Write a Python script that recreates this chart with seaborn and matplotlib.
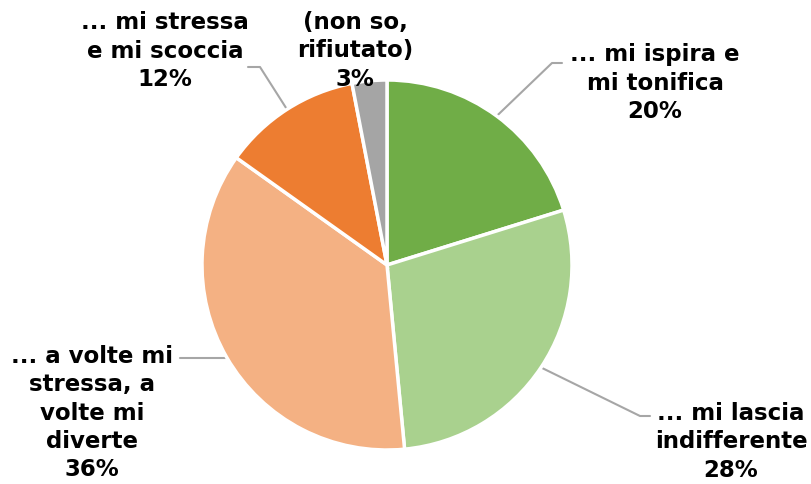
import numpy as np
import matplotlib
matplotlib.use("Agg")
import matplotlib.pyplot as plt
import seaborn as sns

sns.set_theme(style="white")
plt.rcParams["font.family"] = ["DejaVu Sans"]

categories = [
    "... mi ispira e\nmi tonifica",
    "... mi lascia\nindifferente",
    "... a volte mi\nstressa, a\nvolte mi\ndiverte",
    "... mi stressa\ne mi scoccia",
    "(non so,\nrifiutato)",
]
shares = [20, 28, 36, 12, 3]
colors = ["#70AD47", "#A9D18E", "#F4B183", "#ED7D31", "#A5A5A5"]

W, H = 811, 484
fig = plt.figure(figsize=(W / 100, H / 100), dpi=100)
ax = fig.add_axes([0, 0, 1, 1])

cx, cy, r = 387, H - 265, 185
wedges, _ = ax.pie(
    shares, colors=colors, startangle=90, counterclock=False,
    center=(cx, cy), radius=r, frame=True,
    wedgeprops=dict(edgecolor="white", linewidth=2.5),
)
ax.set_xlim(0, W)
ax.set_ylim(0, H)
ax.set_aspect("equal")
ax.axis("off")

# label centre positions and leader-line elbows (pixel space, y from top)
label_pos = [(655, 83), (731, 442), (92, 413), (165, 51), (355, 51)]
elbows = [[(552, 63), (562, 63)],
          [(640, 416), (650, 416)],
          [(208, 358), (180, 358)],
          [(260, 67), (248, 67)],
          None]

for w, lab, val, (lx, ly), elb in zip(wedges, categories, shares, label_pos, elbows):
    ax.text(lx, H - ly, f"{lab}\n{val}%", ha="center", va="center",
            fontsize=16.5, fontweight="bold", color="black", linespacing=1.28)
    if elb is None:
        continue
    mid = np.deg2rad((w.theta1 + w.theta2) / 2)
    ex, ey = cx + r * np.cos(mid), cy + r * np.sin(mid)
    xs = [ex] + [p[0] for p in elb]
    ys = [ey] + [H - p[1] for p in elb]
    if elb[0][1] == elb[1][1] and abs(H - elb[0][1] - ey) < 15:
        xs = [ex, elb[1][0]]
        ys = [H - elb[0][1], H - elb[1][1]]
    ax.plot(xs, ys, color="#A6A6A6", linewidth=1.5, zorder=0.5)

fig.savefig("out.png", dpi=100, facecolor="white")
